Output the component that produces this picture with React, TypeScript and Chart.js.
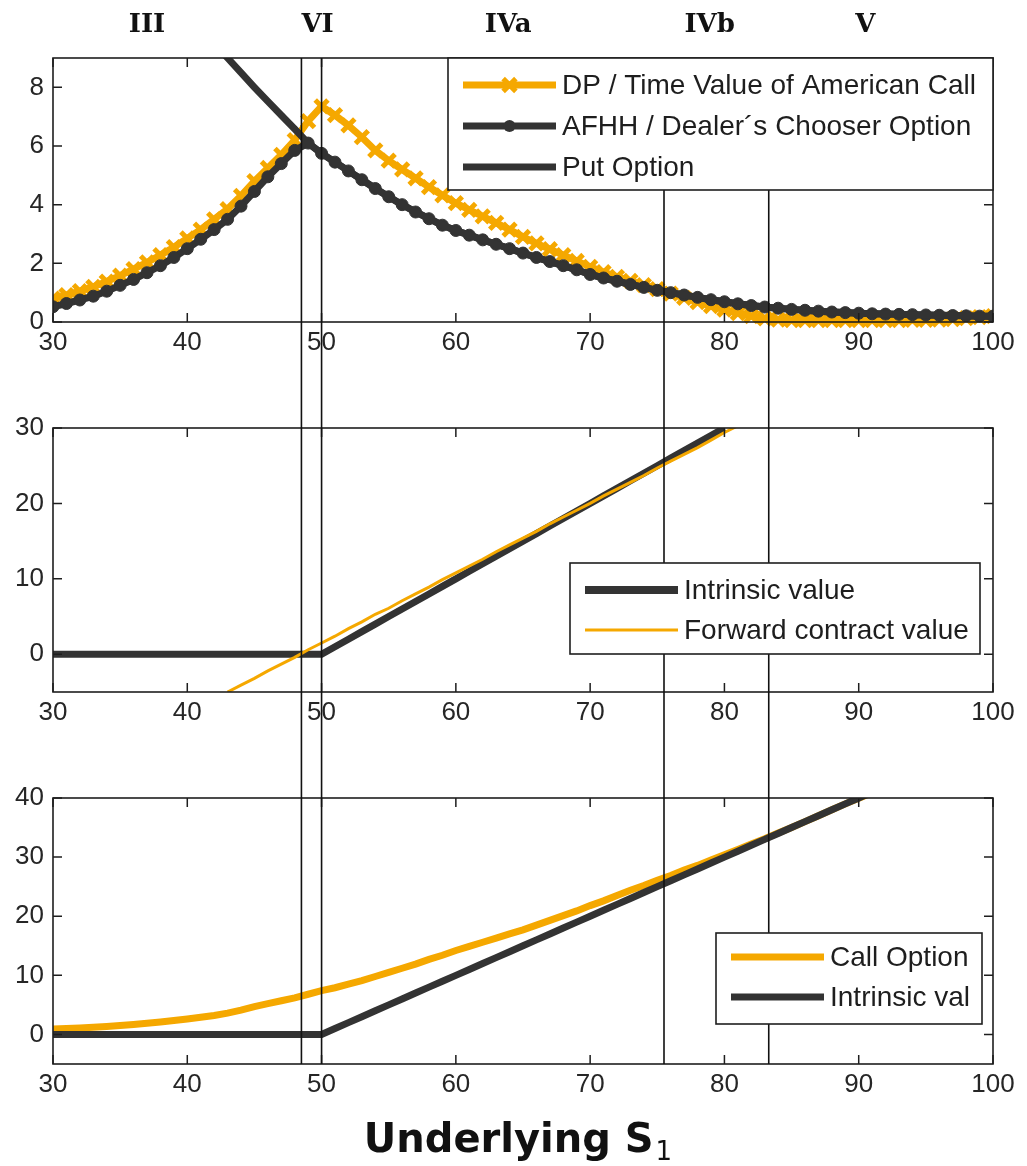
import React, { useEffect, useRef } from 'react';
import { Chart, registerables } from 'chart.js';

Chart.register(...registerables);

// ---------- data ----------
const xTickValues = [30, 40, 50, 60, 70, 80, 90, 100];
const regionNames = ['III', 'VI', 'IVa', 'IVb', 'V'];
const regionNameAt = [37.0, 49.7, 63.9, 78.9, 90.5];
const regionBounds = [48.5, 50, 75.5, 83.3];

const yTicksTop = [0, 2, 4, 6, 8];
const yTicksMid = [0, 10, 20, 30];
const yTicksBottom = [0, 10, 20, 30, 40];

// top panel
const s1Top = [30, 31, 32, 33, 34, 35, 36, 37, 38, 39, 40, 41, 42, 43, 44, 45, 46, 47, 48, 49, 50, 51, 52, 53, 54, 55, 56, 57, 58, 59, 60, 61, 62, 63, 64, 65, 66, 67, 68, 69, 70, 71, 72, 73, 74, 75, 76, 77, 78, 79, 80, 81, 82, 83, 84, 85, 86, 87, 88, 89, 90, 91, 92, 93, 94, 95, 96, 97, 98, 99, 100];
const dpTimeValue = [0.8, 0.92, 1.05, 1.2, 1.38, 1.58, 1.8, 2.03, 2.28, 2.55, 2.85, 3.15, 3.5, 3.85, 4.3, 4.8, 5.25, 5.7, 6.2, 6.85, 7.35, 7.05, 6.7, 6.3, 5.85, 5.5, 5.2, 4.9, 4.6, 4.32, 4.05, 3.82, 3.6, 3.38, 3.15, 2.9, 2.68, 2.48, 2.28, 2.08, 1.88, 1.7, 1.54, 1.4, 1.26, 1.12, 0.97, 0.82, 0.68, 0.54, 0.42, 0.3, 0.2, 0.12, 0.08, 0.06, 0.06, 0.06, 0.06, 0.06, 0.06, 0.06, 0.06, 0.06, 0.07, 0.07, 0.08, 0.1, 0.13, 0.17, 0.2];
const afhhChooser = [0.52, 0.63, 0.75, 0.88, 1.05, 1.25, 1.45, 1.68, 1.92, 2.2, 2.5, 2.82, 3.15, 3.5, 3.95, 4.45, 4.95, 5.4, 5.85, 6.1, 5.75, 5.45, 5.15, 4.85, 4.55, 4.27, 4.0, 3.75, 3.52, 3.3, 3.12, 2.96, 2.8, 2.65, 2.5, 2.35, 2.2, 2.06, 1.92, 1.78, 1.62, 1.5, 1.39, 1.28, 1.18, 1.08, 1.0, 0.92, 0.84, 0.76, 0.69, 0.62, 0.56, 0.51, 0.47, 0.43, 0.4, 0.37, 0.34, 0.32, 0.3, 0.28, 0.27, 0.26, 0.25, 0.24, 0.23, 0.22, 0.21, 0.2, 0.2];
const putS = [40, 41, 42, 43, 44, 45, 46, 47, 48, 49, 50, 51, 52, 53, 54, 55, 56, 57, 58, 59, 60, 61, 62, 63, 64, 65, 66, 67, 68, 69, 70, 71, 72, 73, 74, 75, 76, 77, 78, 79, 80, 81, 82, 83, 84, 85, 86, 87, 88, 89, 90, 91, 92, 93, 94, 95, 96, 97, 98, 99, 100];
const putOption = [10.6, 10.05, 9.52, 9.0, 8.5, 8.0, 7.52, 7.05, 6.58, 6.1, 5.75, 5.45, 5.15, 4.85, 4.55, 4.27, 4.0, 3.75, 3.52, 3.3, 3.12, 2.96, 2.8, 2.65, 2.5, 2.35, 2.2, 2.06, 1.92, 1.78, 1.62, 1.5, 1.39, 1.28, 1.18, 1.08, 1.0, 0.92, 0.84, 0.76, 0.69, 0.62, 0.56, 0.51, 0.47, 0.43, 0.4, 0.37, 0.34, 0.32, 0.3, 0.28, 0.27, 0.26, 0.25, 0.24, 0.23, 0.22, 0.21, 0.2, 0.2];

// middle panel
const s1Mid = [30, 31, 32, 33, 34, 35, 36, 37, 38, 39, 40, 41, 42, 43, 44, 45, 46, 47, 48, 49, 50, 51, 52, 53, 54, 55, 56, 57, 58, 59, 60, 61, 62, 63, 64, 65, 66, 67, 68, 69, 70, 71, 72, 73, 74, 75, 76, 77, 78, 79, 80];
const intrinsicMid = [0, 0, 0, 0, 0, 0, 0, 0, 0, 0, 0, 0, 0, 0, 0, 0, 0, 0, 0, 0, 0, 1, 2, 3, 4, 5, 6, 7, 8, 9, 10, 11, 12, 13, 14, 15, 16, 17, 18, 19, 20, 21, 22, 23, 24, 25, 26, 27, 28, 29, 30];
const forwardS = [43, 44, 45, 46, 47, 48, 49, 50, 51, 52, 53, 54, 55, 56, 57, 58, 59, 60, 61, 62, 63, 64, 65, 66, 67, 68, 69, 70, 71, 72, 73, 74, 75, 76, 77, 78, 79, 80, 81];
const forwardValue = [-5.0, -4.1, -3.2, -2.2, -1.3, -0.4, 0.6, 1.5, 2.4, 3.4, 4.3, 5.3, 6.1, 7.1, 8.0, 8.9, 9.9, 10.8, 11.7, 12.6, 13.6, 14.5, 15.4, 16.3, 17.3, 18.2, 19.1, 20.0, 21.0, 21.9, 22.8, 23.7, 24.7, 25.6, 26.5, 27.4, 28.4, 29.4, 30.3];

// bottom panel
const s1Bottom = [30, 31, 32, 33, 34, 35, 36, 37, 38, 39, 40, 41, 42, 43, 44, 45, 46, 47, 48, 49, 50, 51, 52, 53, 54, 55, 56, 57, 58, 59, 60, 61, 62, 63, 64, 65, 66, 67, 68, 69, 70, 71, 72, 73, 74, 75, 76, 77, 78, 79, 80, 81, 82, 83, 84, 85, 86, 87, 88, 89, 90, 91];
const callOption = [0.9, 1.0, 1.1, 1.2, 1.35, 1.5, 1.7, 1.9, 2.1, 2.35, 2.6, 2.9, 3.2, 3.6, 4.1, 4.7, 5.2, 5.7, 6.2, 6.8, 7.4, 7.9, 8.5, 9.1, 9.8, 10.5, 11.2, 11.9, 12.7, 13.4, 14.2, 14.9, 15.6, 16.3, 17.0, 17.7, 18.5, 19.3, 20.1, 20.9, 21.8, 22.6, 23.5, 24.4, 25.2, 26.1, 26.9, 27.8, 28.6, 29.5, 30.4, 31.3, 32.2, 33.1, 34.1, 35.0, 36.0, 37.0, 38.0, 39.0, 39.95, 40.9];
const intrinsicBottom = [0, 0, 0, 0, 0, 0, 0, 0, 0, 0, 0, 0, 0, 0, 0, 0, 0, 0, 0, 0, 0, 1, 2, 3, 4, 5, 6, 7, 8, 9, 10, 11, 12, 13, 14, 15, 16, 17, 18, 19, 20, 21, 22, 23, 24, 25, 26, 27, 28, 29, 30, 31, 32, 33, 34, 35, 36, 37, 38, 39, 40, 41];

// ---------- styling ----------
const ORANGE = '#f5a800';
const DARK = '#333333';
const INK = '#1e1e1e';
const SANS = '"Liberation Sans", Arial, sans-serif';
const PAGE_W = 1027;
const TICK_LEN = 9;

const pts = (xs: number[], ys: number[]) => xs.map((x, i) => ({ x, y: ys[i] }));

function drawMarker(ctx: CanvasRenderingContext2D, style: string, x: number, y: number, r: number, color: string, bw: number) {
  ctx.save();
  ctx.strokeStyle = color;
  ctx.fillStyle = color;
  ctx.lineWidth = bw;
  if (style === 'crossRot') {
    const d = r * Math.SQRT1_2;
    ctx.beginPath();
    ctx.moveTo(x - d, y - d); ctx.lineTo(x + d, y + d);
    ctx.moveTo(x - d, y + d); ctx.lineTo(x + d, y - d);
    ctx.stroke();
  } else if (style === 'circle') {
    ctx.beginPath();
    ctx.arc(x, y, r, 0, Math.PI * 2);
    ctx.fill();
  }
  ctx.restore();
}

const panelDecor = {
  id: 'panelDecor',
  afterDatasetsDraw(chart: any, _args: any, opts: any) {
    const { ctx, chartArea: a } = chart;
    const xs = chart.scales.x;
    const ys = chart.scales.y;
    ctx.save();
    // frame + inward ticks
    ctx.strokeStyle = INK;
    ctx.lineWidth = 1.5;
    ctx.beginPath();
    xTickValues.forEach((v) => {
      const px = xs.getPixelForValue(v);
      ctx.moveTo(px, a.bottom); ctx.lineTo(px, a.bottom - TICK_LEN);
      ctx.moveTo(px, a.top); ctx.lineTo(px, a.top + TICK_LEN);
    });
    ys.ticks.forEach((t: any) => {
      const py = ys.getPixelForValue(t.value);
      ctx.moveTo(a.left, py); ctx.lineTo(a.left + TICK_LEN, py);
      ctx.moveTo(a.right, py); ctx.lineTo(a.right - TICK_LEN, py);
    });
    ctx.stroke();
    ctx.lineWidth = 1.6;
    ctx.strokeRect(a.left, a.top, a.right - a.left, a.bottom - a.top);

    // region boundaries spanning all panels
    const y0 = opts.fromArea ? a.top : 0;
    const y1 = opts.toArea ? a.bottom : chart.height;
    ctx.strokeStyle = '#111';
    ctx.lineWidth = 1.6;
    ctx.beginPath();
    regionBounds.forEach((b) => {
      const px = xs.getPixelForValue(b);
      ctx.moveTo(px, y0); ctx.lineTo(px, y1);
    });
    ctx.stroke();

    // legend box
    const L = opts.legend;
    if (L) {
      ctx.fillStyle = '#fff';
      ctx.fillRect(L.left, L.top, L.width, L.height);
      ctx.strokeStyle = INK;
      ctx.lineWidth = 1.6;
      ctx.strokeRect(L.left, L.top, L.width, L.height);
      L.order.forEach((di: number, i: number) => {
        const ds = chart.data.datasets[di];
        const cy = L.top + L.firstRow + i * L.rowGap;
        const x0 = L.left + 15;
        const x1 = x0 + 93;
        ctx.strokeStyle = ds.borderColor;
        ctx.lineWidth = ds.legendWidth || ds.borderWidth;
        ctx.lineCap = 'butt';
        ctx.beginPath();
        ctx.moveTo(x0, cy); ctx.lineTo(x1, cy);
        ctx.stroke();
        if (ds.pointRadius > 0) {
          drawMarker(ctx, ds.pointStyle, (x0 + x1) / 2, cy, ds.pointRadius, ds.borderColor, ds.pointBorderWidth || 1);
        }
        ctx.fillStyle = INK;
        ctx.font = `28px ${SANS}`;
        ctx.textAlign = 'left';
        ctx.textBaseline = 'middle';
        ctx.fillText(ds.label, x1 + 6, cy + 1);
      });
    }

    // region names above the top panel
    if (opts.regionNames) {
      ctx.fillStyle = '#111';
      ctx.font = `bold 26px "DejaVu Serif", serif`;
      ctx.textAlign = 'center';
      ctx.textBaseline = 'middle';
      regionNames.forEach((n, i) => {
        ctx.fillText(n, xs.getPixelForValue(regionNameAt[i]), 25);
      });
    }

    // x-axis title under the bottom panel
    if (opts.title) {
      const main = 'Underlying S';
      const sub = '1';
      ctx.fillStyle = '#111';
      ctx.textBaseline = 'alphabetic';
      ctx.textAlign = 'left';
      ctx.font = `bold 40px "DejaVu Sans", sans-serif`;
      const wm = ctx.measureText(main).width;
      ctx.font = `26px "DejaVu Sans", sans-serif`;
      const wsub = ctx.measureText(sub).width;
      const cx = (a.left + a.right) / 2 - 5;
      const sx = cx - (wm + 2 + wsub) / 2;
      ctx.font = `bold 40px "DejaVu Sans", sans-serif`;
      ctx.fillText(main, sx, opts.titleBaseline);
      ctx.font = `26px "DejaVu Sans", sans-serif`;
      ctx.fillText(sub, sx + wm + 2, opts.titleBaseline + 8);
    }
    ctx.restore();
  },
};

type PanelProps = {
  top: number;
  height: number;
  padTop: number;
  axisHeight: number;
  yMin: number;
  yMax: number;
  yTicks: number[];
  makeDatasets: () => any[];
  decor: any;
};

function Panel({ top, height, padTop, axisHeight, yMin, yMax, yTicks, makeDatasets, decor }: PanelProps) {
  const ref = useRef<HTMLCanvasElement>(null);
  useEffect(() => {
    if (!ref.current) return;
    const tickFont = { family: SANS, size: 26 };
    const chart = new Chart(ref.current, {
      type: 'line',
      data: { datasets: makeDatasets() },
      options: {
        animation: false,
        responsive: false,
        maintainAspectRatio: false,
        events: [],
        layout: { padding: { top: padTop, right: 34, left: 0, bottom: 0 } },
        elements: { line: { tension: 0 } },
        plugins: {
          legend: { display: false },
          tooltip: { enabled: false },
          panelDecor: decor,
        } as any,
        scales: {
          x: {
            type: 'linear',
            min: 30,
            max: 100,
            afterBuildTicks: (s: any) => { s.ticks = xTickValues.map((v) => ({ value: v })); },
            afterFit: (s: any) => { s.height = axisHeight; },
            grid: { display: false, drawTicks: false },
            border: { display: false },
            ticks: { font: tickFont, color: '#262626', padding: 5, autoSkip: false, maxRotation: 0, callback: (v: any) => String(v) },
          },
          y: {
            type: 'linear',
            min: yMin,
            max: yMax,
            afterBuildTicks: (s: any) => { s.ticks = yTicks.map((v) => ({ value: v })); },
            afterFit: (s: any) => { s.width = 53; },
            grid: { display: false, drawTicks: false },
            border: { display: false },
            ticks: { font: tickFont, color: '#262626', padding: 9, callback: (v: any) => String(v) },
          },
        },
      } as any,
      plugins: [panelDecor as any],
    });
    return () => chart.destroy();
  }, []);
  return (
    <canvas
      ref={ref}
      width={PAGE_W}
      height={height}
      style={{ position: 'absolute', left: 0, top, width: PAGE_W, height, display: 'block' }}
    />
  );
}

const topDatasets = () => [
  {
    label: 'DP / Time Value of American Call',
    data: pts(s1Top, dpTimeValue),
    borderColor: ORANGE,
    backgroundColor: ORANGE,
    borderWidth: 7,
    pointStyle: 'crossRot',
    pointRadius: 9,
    pointBorderWidth: 5,
    pointBorderColor: ORANGE,
    pointBackgroundColor: ORANGE,
    order: 3,
    clip: { left: 0, right: 0, top: 0, bottom: 8 },
  },
  {
    label: 'AFHH / Dealer´s Chooser Option',
    data: pts(s1Top, afhhChooser),
    borderColor: DARK,
    backgroundColor: DARK,
    borderWidth: 7,
    pointStyle: 'circle',
    pointRadius: 6,
    pointBorderWidth: 1,
    pointBorderColor: DARK,
    pointBackgroundColor: DARK,
    order: 2,
    clip: { left: 0, right: 0, top: 0, bottom: 8 },
  },
  {
    label: 'Put Option',
    data: pts(putS, putOption),
    borderColor: DARK,
    backgroundColor: DARK,
    borderWidth: 7,
    pointRadius: 0,
    order: 1,
    clip: 0,
  },
];

const midDatasets = () => [
  {
    label: 'Intrinsic value',
    data: pts(s1Mid, intrinsicMid),
    borderColor: DARK,
    backgroundColor: DARK,
    borderWidth: 7,
    legendWidth: 8,
    pointRadius: 0,
    order: 2,
    clip: 0,
  },
  {
    label: 'Forward contract value',
    data: pts(forwardS, forwardValue),
    borderColor: ORANGE,
    backgroundColor: ORANGE,
    borderWidth: 3,
    pointRadius: 0,
    order: 1,
    clip: 0,
  },
];

const bottomDatasets = () => [
  {
    label: 'Call Option',
    data: pts(s1Bottom, callOption),
    borderColor: ORANGE,
    backgroundColor: ORANGE,
    borderWidth: 7,
    pointRadius: 0,
    order: 2,
    clip: 0,
  },
  {
    label: 'Intrinsic val',
    data: pts(s1Bottom, intrinsicBottom),
    borderColor: DARK,
    backgroundColor: DARK,
    borderWidth: 7,
    pointRadius: 0,
    order: 1,
    clip: 0,
  },
];

export default function App() {
  return (
    <div style={{ position: 'absolute', left: 0, top: 0, width: PAGE_W, height: 1166, background: '#fff', overflow: 'hidden' }}>
      <Panel
        top={0}
        height={380}
        padTop={58}
        axisHeight={58}
        yMin={0}
        yMax={9}
        yTicks={yTicksTop}
        makeDatasets={topDatasets}
        decor={{
          fromArea: true,
          regionNames: true,
          legend: { left: 448, top: 58, width: 545, height: 132, firstRow: 27, rowGap: 41, order: [0, 1, 2] },
        }}
      />
      <Panel
        top={380}
        height={370}
        padTop={48}
        axisHeight={58}
        yMin={-5}
        yMax={30}
        yTicks={yTicksMid}
        makeDatasets={midDatasets}
        decor={{
          legend: { left: 570, top: 183, width: 410, height: 91, firstRow: 27, rowGap: 40, order: [0, 1] },
        }}
      />
      <Panel
        top={750}
        height={416}
        padTop={48}
        axisHeight={102}
        yMin={-5}
        yMax={40}
        yTicks={yTicksBottom}
        makeDatasets={bottomDatasets}
        decor={{
          toArea: true,
          title: true,
          titleBaseline: 402,
          legend: { left: 716, top: 183, width: 266, height: 91, firstRow: 24, rowGap: 40, order: [0, 1] },
        }}
      />
    </div>
  );
}
